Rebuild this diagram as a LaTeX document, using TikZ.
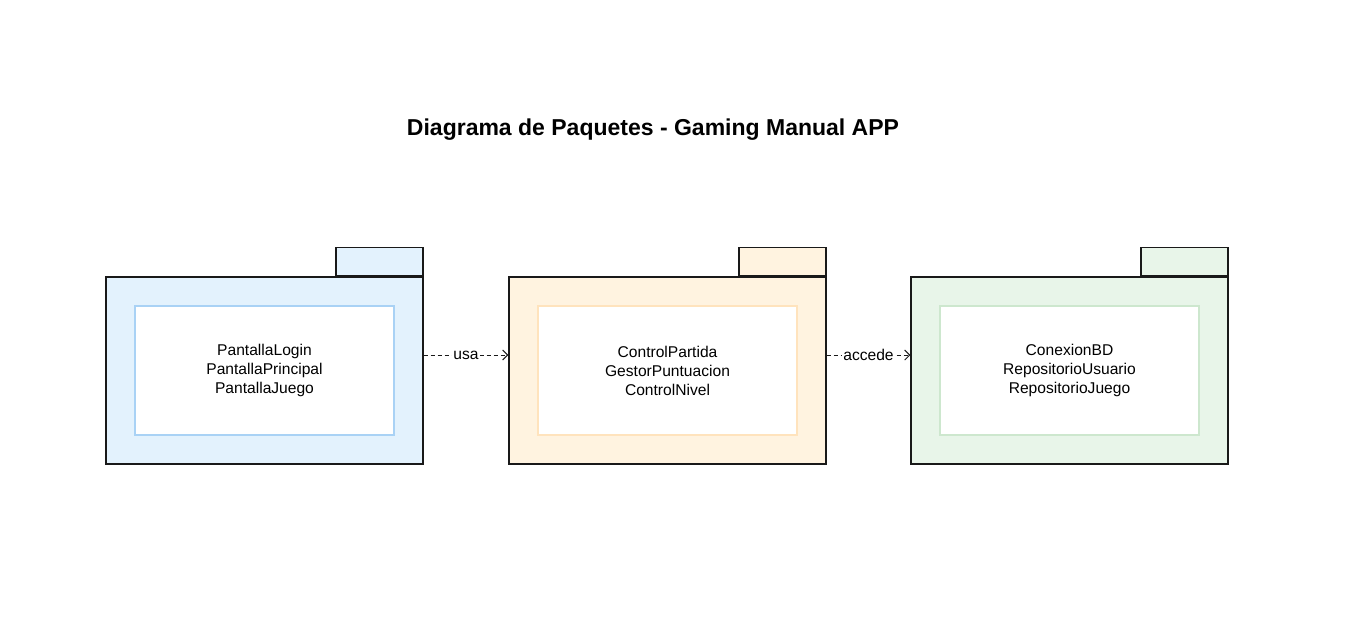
\documentclass[tikz,border=0pt]{standalone}
\usepackage{fontspec}
\setmainfont{Liberation Sans}
\usetikzlibrary{arrows.meta,positioning}
\definecolor{uifill}{HTML}{E3F2FD}
\definecolor{uiline}{HTML}{A9D2F5}
\definecolor{logicfill}{HTML}{FFF3E0}
\definecolor{logicline}{HTML}{FFE3BD}
\definecolor{datafill}{HTML}{E8F5E9}
\definecolor{dataline}{HTML}{CDE7CE}
\tikzset{
    pkgbody/.style={draw=black!90, line width=1.2pt, minimum width=317, minimum height=187, inner sep=0pt},
    pkgtab/.style={draw=black!90, line width=1.2pt, minimum width=87, minimum height=28, inner sep=0pt},
    pkginner/.style={fill=white, line width=1.5pt, minimum width=259, minimum height=129, align=center},
    dep/.style={draw=black!90, line width=1pt, dash pattern=on 4pt off 3pt, -{Straight Barb[length=5pt, width=10pt]}},
    deplabel/.style={fill=white, inner sep=1pt}
}

\begin{document}
\begin{tikzpicture}[x=1pt, y=-1pt, every node/.style={font=\fontsize{15.6}{19}\selectfont}]
    \useasboundingbox (0,0) rectangle (1372,631);
    \node[font=\bfseries\fontsize{23}{27}\selectfont] (title) at (653,129.5) {Diagrama de Paquetes - Gaming Manual APP};
    % packages
    \foreach \n/\x/\fc/\lc/\items in {ui/106/uifill/uiline/{PantallaLogin\\PantallaPrincipal\\PantallaJuego},
                                      logic/509/logicfill/logicline/{ControlPartida\\GestorPuntuacion\\ControlNivel},
                                      data/911/datafill/dataline/{ConexionBD\\RepositorioUsuario\\RepositorioJuego}} {
        \node[pkgbody, fill=\fc] (\n) at (\x+158.5,370.5) {};
        \node[pkgtab, fill=\fc, anchor=south east] (\n-tab) at (\n.north east) {};
        \node[pkginner, draw=\lc] (\n-in) at (\n.center) {\items};
    }
    % dependencies
    \draw[dep] ([yshift=15.5pt]ui.east) -- node[deplabel] {usa} ([yshift=15.5pt]logic.west);
    \draw[dep] ([yshift=15.5pt]logic.east) -- node[deplabel] {accede} ([yshift=15.5pt]data.west);
\end{tikzpicture}
\end{document}
